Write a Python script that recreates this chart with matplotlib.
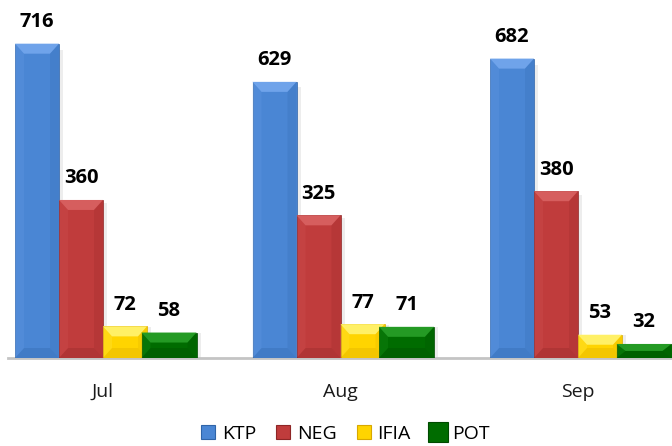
import matplotlib
matplotlib.use("Agg")
import matplotlib.pyplot as plt
from matplotlib.patches import Polygon, Rectangle
from matplotlib.lines import Line2D
import matplotlib.transforms as mtransforms
import numpy as np

months = ["Jul", "Aug", "Sep"]
series_names = ["KTP", "NEG", "IFIA", "POT"]
ktp = [716, 629, 682]
neg = [360, 325, 380]
ifia = [72, 77, 53]
pot = [58, 71, 32]
values = [ktp, neg, ifia, pot]

colors = ["#4a86d4", "#c03c3c", "#ffd400", "#006c00"]
light = ["#6fa3ea", "#d65e5e", "#fff066", "#249a24"]
dark = ["#2f64a8", "#8e2626", "#d8a800", "#004a00"]

W, H, DPI = 672, 446, 100
fig = plt.figure(figsize=(W / DPI, H / DPI), dpi=DPI)
fig.patch.set_facecolor("white")

L, R, B, T = 8, 672, 88, 446
ax = fig.add_axes([L / W, B / H, (R - L) / W, (T - B) / H])
x0px, unitpx = 103.0, 237.5
ppy = 0.439
ax.set_xlim((L - x0px) / unitpx, (R - x0px) / unitpx)
ax.set_ylim(0, (T - B) / ppy)
for s in ["top", "right", "left"]:
    ax.spines[s].set_visible(False)
ax.spines["bottom"].set_color("#c4c4c4")
ax.spines["bottom"].set_linewidth(2.0)
ax.set_yticks([])
ax.set_xticks([])

x = np.arange(len(months))
w = 44.0 / unitpx
widths = [w, w, w, w * 1.25]
offsets = [-1.5, -0.5, 0.5, 1.5]
bev_x = 9.0 / unitpx
bev_y = 10.0 / ppy
shadow_dx = 4.0 / unitpx

label_font = ["Liberation Sans Narrow", "Open Sans", "DejaVu Sans"]
text_font = ["Open Sans", "DejaVu Sans"]

for i, (vals, c, lc, dc) in enumerate(zip(values, colors, light, dark)):
    bars = ax.bar(x + offsets[i] * w, vals, width=widths[i], color=c,
                  edgecolor=dc, linewidth=0.5, zorder=3 + i * 0.1)
    for b in bars:
        bx, bw, bh = b.get_x(), b.get_width(), b.get_height()
        z = b.get_zorder() + 0.01
        ax.add_patch(Rectangle((bx + bw, 0), shadow_dx, bh * 0.98,
                               facecolor="#000000", alpha=0.07, lw=0, zorder=2))
        dy = min(bev_y, bh / 2)
        ax.add_patch(Polygon([(bx, bh), (bx + bw, bh), (bx + bw - bev_x, bh - dy),
                              (bx + bev_x, bh - dy)], closed=True, facecolor=lc,
                             edgecolor="none", zorder=z))
        ax.add_patch(Polygon([(bx, 0), (bx + bw, 0), (bx + bw - bev_x, dy),
                              (bx + bev_x, dy)], closed=True, facecolor=dc,
                             edgecolor="none", alpha=0.3, zorder=z))
        ax.add_patch(Polygon([(bx + bw, bh), (bx + bw, 0), (bx + bw - bev_x, dy),
                              (bx + bw - bev_x, bh - dy)], closed=True, facecolor=dc,
                             edgecolor="none", alpha=0.2, zorder=z))
        ax.add_patch(Polygon([(bx, bh), (bx, 0), (bx + bev_x, dy),
                              (bx + bev_x, bh - dy)], closed=True, facecolor=lc,
                             edgecolor="none", alpha=0.2, zorder=z))
        ax.annotate(f"{int(bh)}", (bx + bw / 2, bh), xytext=(0, 12),
                    textcoords="offset points", ha="center", va="baseline",
                    fontsize=14.5, fontweight="bold", family=label_font,
                    color="black", zorder=10)

trans = mtransforms.blended_transform_factory(ax.transData, fig.transFigure)
for xi, m in zip(x, months):
    ax.text(xi, (H - 397) / H, m, transform=trans, ha="center", va="baseline",
            fontsize=14, family=text_font, color="#1a1a1a")

msizes = [10, 10, 10, 14.5]
handles = [Line2D([0], [0], marker="s", linestyle="none", markersize=ms,
                  markerfacecolor=c, markeredgecolor=dc, markeredgewidth=0.8)
           for c, dc, ms in zip(colors, dark, msizes)]
leg = fig.legend(handles, series_names, loc="center", bbox_to_anchor=(345 / W, (H - 434) / H),
                 ncol=4, frameon=False, handlelength=0.8, handletextpad=0.3,
                 columnspacing=1.0, prop={"family": text_font, "size": 14})

fig.savefig("out.png", dpi=DPI, facecolor="white")
